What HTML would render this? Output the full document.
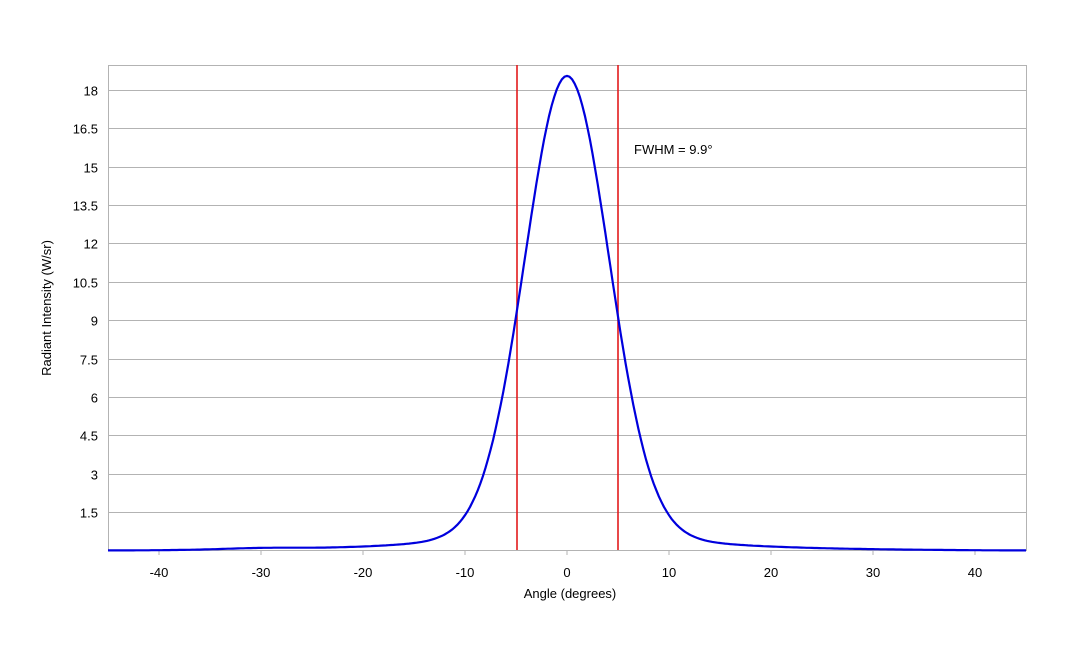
<!DOCTYPE html>
<html><head><meta charset="utf-8"><style>
html,body{margin:0;padding:0;background:#fff;}
svg{display:block;font-family:"Liberation Sans",sans-serif;}
</style></head><body>
<svg id="s" width="1080" height="648" viewBox="0 0 1080 648" xmlns="http://www.w3.org/2000/svg">
<rect x="0" y="0" width="1080" height="648" fill="#fff"/>
<g id="grid" stroke="#b3b3b3" stroke-width="1"></g>
<rect x="108.5" y="65.5" width="918" height="485" fill="none" stroke="#b3b3b3"/>
<g id="ticks" font-size="13" fill="#000"></g>
<line x1="517" y1="65" x2="517" y2="550" stroke="#e31a1c" stroke-width="1.6"/>
<line x1="618" y1="65" x2="618" y2="550" stroke="#e31a1c" stroke-width="1.6"/>
<path id="curve" fill="none" stroke="#0000dd" stroke-width="2.2"/>
<text x="634" y="154" font-size="13">FWHM = 9.9°</text>
<text x="570" y="598" font-size="13" text-anchor="middle">Angle (degrees)</text>
<text transform="translate(51,308) rotate(-90)" font-size="13" text-anchor="middle">Radiant Intensity (W/sr)</text>
</svg>
<script>
var X=function(v){return 567+v*10.2;},Y=function(v){return 550.4-v*25.58;};
var g=document.getElementById('grid'),t=document.getElementById('ticks'),ns="http://www.w3.org/2000/svg";
var labs=["1.5","3","4.5","6","7.5","9","10.5","12","13.5","15","16.5","18"];
labs.forEach(function(l){var y=Math.round(Y(parseFloat(l)))+0.5;
var ln=document.createElementNS(ns,'line');ln.setAttribute('x1',108);ln.setAttribute('x2',1026);ln.setAttribute('y1',y);ln.setAttribute('y2',y);g.appendChild(ln);
var tx=document.createElementNS(ns,'text');tx.setAttribute('x',98);tx.setAttribute('y',y+5);tx.setAttribute('text-anchor','end');tx.textContent=l;t.appendChild(tx);});
for(var v=-40;v<=40;v+=10){var x=X(v);
var ln=document.createElementNS(ns,'line');ln.setAttribute('x1',x);ln.setAttribute('x2',x);ln.setAttribute('y1',550);ln.setAttribute('y2',555);ln.setAttribute('stroke','#b3b3b3');g.appendChild(ln);
var tx=document.createElementNS(ns,'text');tx.setAttribute('x',x);tx.setAttribute('y',577);tx.setAttribute('text-anchor','middle');tx.textContent=v;t.appendChild(tx);}
function f(x){return 17.4*Math.exp(-x*x/(2*4.1*4.1))+1.2/(1+(x/9)*(x/9))+0.05*Math.exp(-Math.pow((x+30)/5,2))-0.05;}
var d="";for(var x=-45;x<=45.001;x+=0.25){d+=(d?"L":"M")+X(x).toFixed(1)+","+Y(Math.max(f(x),0)).toFixed(1);}
document.getElementById('curve').setAttribute('d',d);
</script>
</body></html>
